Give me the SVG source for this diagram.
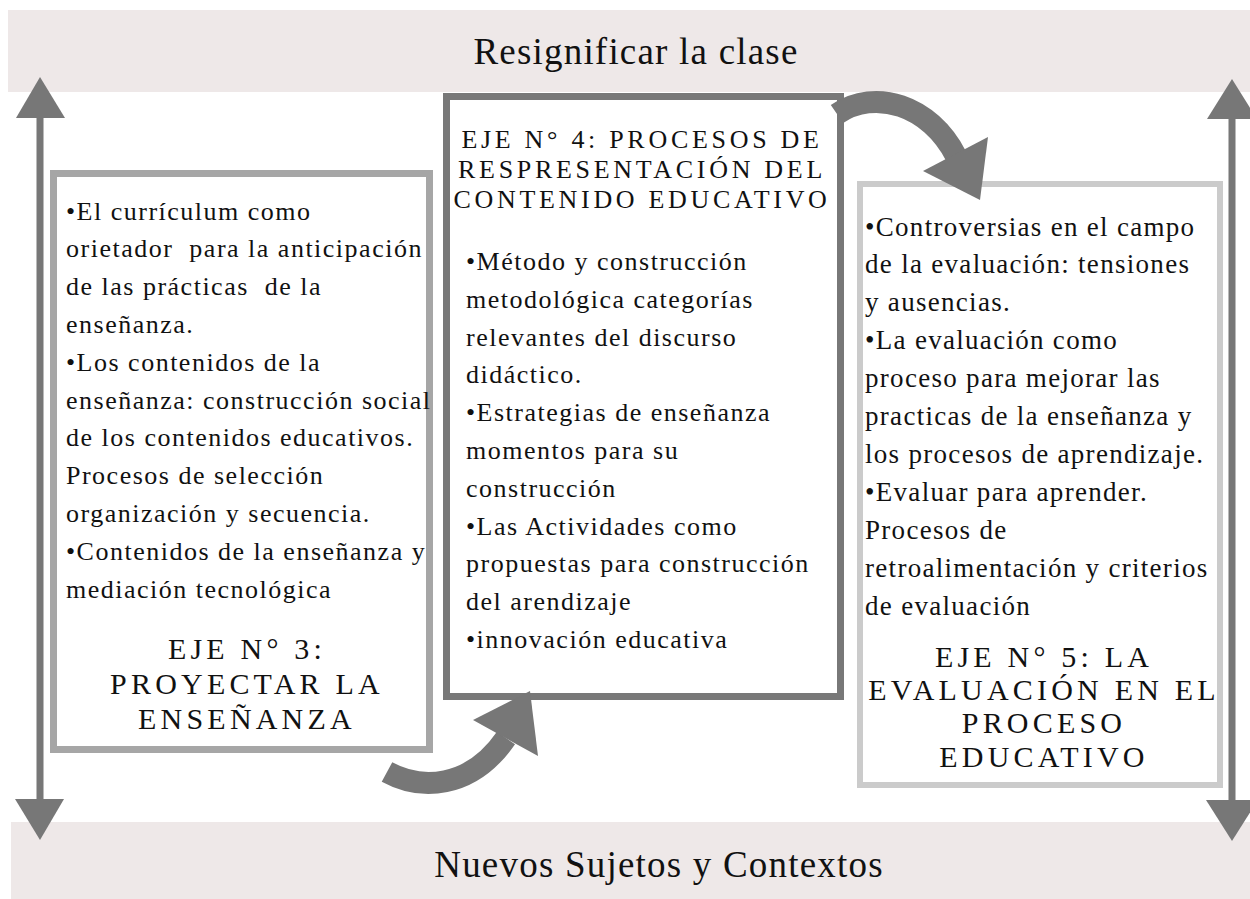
<svg xmlns="http://www.w3.org/2000/svg" width="1250" height="899" viewBox="0 0 1250 899">
<style>
.band{fill:#EEE8E8}
.big{font-family:"Liberation Serif","Times New Roman",serif;font-size:37px;letter-spacing:1.2px;fill:#111;text-anchor:middle}
.body{font-family:"Liberation Serif","Times New Roman",serif;font-size:26px;letter-spacing:1.5px;fill:#111;white-space:pre}
.body5{font-family:"Liberation Serif","Times New Roman",serif;font-size:27px;letter-spacing:1.3px;fill:#111;white-space:pre}
.head{font-family:"Liberation Serif","Times New Roman",serif;font-size:30px;letter-spacing:4.2px;fill:#111;text-anchor:middle}
.head4{font-family:"Liberation Serif","Times New Roman",serif;font-size:26px;letter-spacing:3.7px;fill:#111;text-anchor:middle}
.arr{fill:#777777}
.curve{fill:none;stroke:#777777;stroke-width:22;stroke-linecap:butt}
</style>
<rect width="1250" height="899" fill="#ffffff"/>
<g id="band-top">
<rect class="band" x="8" y="10" width="1242" height="82"/>
<text class="big" x="636" y="64">Resignificar la clase</text>
</g>
<g id="band-bottom">
<rect class="band" x="11" y="822" width="1239" height="77"/>
<text class="big" x="659" y="877">Nuevos Sujetos y Contextos</text>
</g>
<g id="side-arrows">
<rect class="arr" x="36.5" y="115" width="7" height="688"/>
<polygon class="arr" points="40,77 16,118 65,118"/>
<polygon class="arr" points="40,840 15,799 64,799"/>
<rect class="arr" x="1228.5" y="116" width="7" height="688"/>
<polygon class="arr" points="1232,79 1207,119 1257,119"/>
<polygon class="arr" points="1232,841 1206,800 1258,800"/>
</g>
<g id="eje3">
<rect x="53.5" y="173.5" width="376" height="576" fill="#ffffff" stroke="#A6A6A6" stroke-width="7"/>
<text class="body" x="66" y="219.5">•El currículum como</text>
<text class="body" x="66" y="257.3">orietador  para la anticipación</text>
<text class="body" x="66" y="295.1">de las prácticas  de la</text>
<text class="body" x="66" y="332.9">enseñanza.</text>
<text class="body" x="66" y="370.7">•Los contenidos de la</text>
<text class="body" x="66" y="408.5">enseñanza: construcción social</text>
<text class="body" x="66" y="446.3">de los contenidos educativos.</text>
<text class="body" x="66" y="484.1">Procesos de selección</text>
<text class="body" x="66" y="521.9">organización y secuencia.</text>
<text class="body" x="66" y="559.7">•Contenidos de la enseñanza y</text>
<text class="body" x="66" y="597.5">mediación tecnológica</text>
<text class="head" x="247" y="659">EJE N° 3:</text>
<text class="head" x="247" y="694">PROYECTAR LA</text>
<text class="head" x="247" y="729">ENSEÑANZA</text>
</g>
<g id="eje4">
<rect x="446.5" y="96.5" width="394" height="600" fill="#ffffff" stroke="#787878" stroke-width="7"/>
<text class="head4" x="642" y="148">EJE N° 4: PROCESOS DE</text>
<text class="head4" x="642" y="178">RESPRESENTACIÓN DEL</text>
<text class="head4" x="642" y="208">CONTENIDO EDUCATIVO</text>
<text class="body" x="466" y="270">•Método y construcción</text>
<text class="body" x="466" y="307.8">metodológica categorías</text>
<text class="body" x="466" y="345.6">relevantes del discurso</text>
<text class="body" x="466" y="383.4">didáctico.</text>
<text class="body" x="466" y="421.2">•Estrategias de enseñanza</text>
<text class="body" x="466" y="459">momentos para su</text>
<text class="body" x="466" y="496.8">construcción</text>
<text class="body" x="466" y="534.6">•Las Actividades como</text>
<text class="body" x="466" y="572.4">propuestas para construcción</text>
<text class="body" x="466" y="610.2">del arendizaje</text>
<text class="body" x="466" y="648">•innovación educativa</text>
</g>
<g id="eje5">
<rect x="860" y="184" width="360" height="601" fill="#ffffff" stroke="#CBCBCB" stroke-width="6"/>
<text class="body5" x="865" y="235.5">•Controversias en el campo</text>
<text class="body5" x="865" y="273.4">de la evaluación: tensiones</text>
<text class="body5" x="865" y="311.3">y ausencias.</text>
<text class="body5" x="865" y="349.2">•La evaluación como</text>
<text class="body5" x="865" y="387.1">proceso para mejorar las</text>
<text class="body5" x="865" y="425">practicas de la enseñanza y</text>
<text class="body5" x="865" y="462.9">los procesos de aprendizaje.</text>
<text class="body5" x="865" y="500.8">•Evaluar para aprender.</text>
<text class="body5" x="865" y="538.7">Procesos de</text>
<text class="body5" x="865" y="576.6">retroalimentación y criterios</text>
<text class="body5" x="865" y="614.5">de evaluación</text>
<text class="head" x="1044" y="667">EJE N° 5: LA</text>
<text class="head" x="1044" y="700">EVALUACIÓN EN EL</text>
<text class="head" x="1044" y="733">PROCESO</text>
<text class="head" x="1044" y="767">EDUCATIVO</text>
</g>
<g id="connectors">
<path class="curve" d="M387,772 C420,790 470,790 506,738"/>
<polygon class="arr" points="530,691 473,720 538,756"/>
<path class="curve" d="M837,114 C875,88 930,105 956,156"/>
<polygon class="arr" points="923,171 988,137 980,200"/>
</g>
</svg>
